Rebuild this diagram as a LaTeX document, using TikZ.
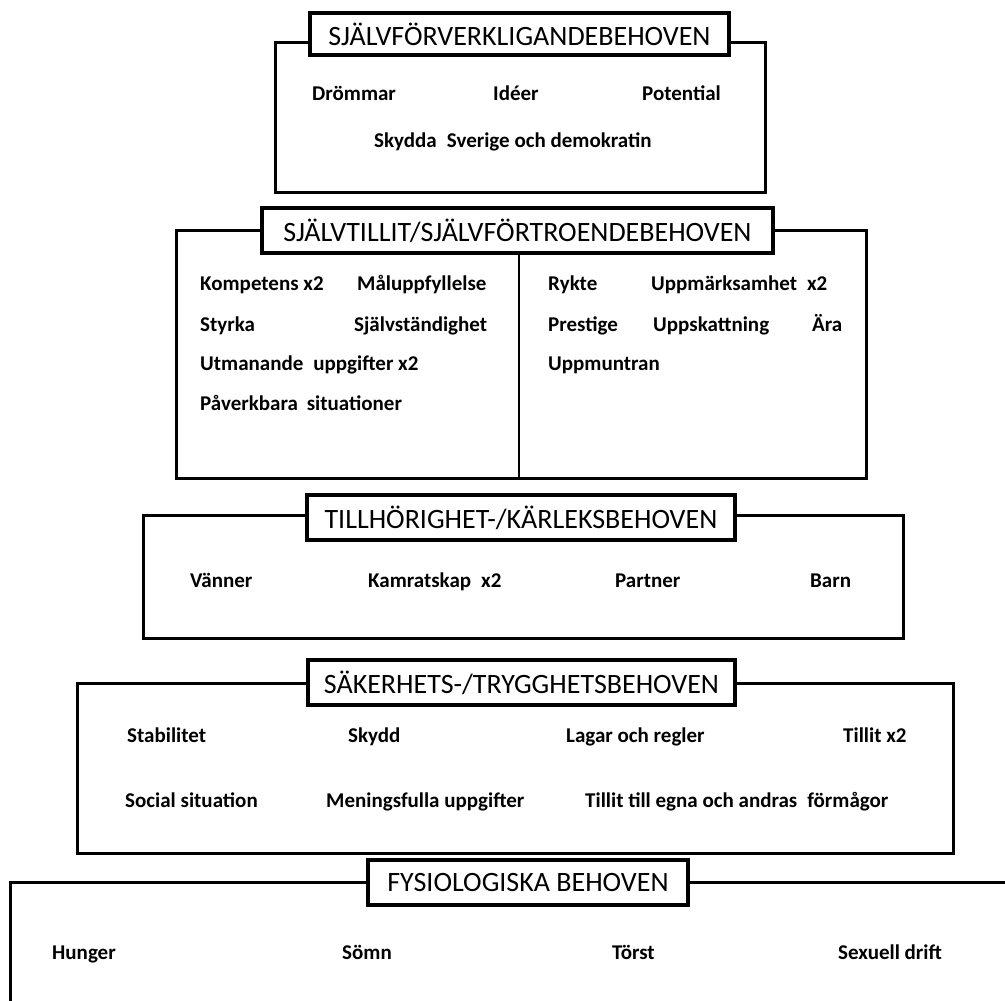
\documentclass[tikz,border=0pt]{standalone}
\usepackage{fontspec}
\setmainfont{Carlito}
\begin{document}
\begin{tikzpicture}[x=1pt,y=-1pt,
  levelbox/.style={draw=black,line width=3pt},
  leveltitle/.style={draw=black,fill=white,line width=3.5pt,inner sep=0pt,
    font=\fontsize{28}{30}\selectfont},
  item/.style={anchor=base west,inner sep=0pt,font=\bfseries\fontsize{21}{24}\selectfont},
  divider/.style={draw=black,line width=1.5pt}]
\clip (0,0) rectangle (1005,1001);
\fill[white] (0,0) rectangle (1005,1001);

% Level 5
\draw[levelbox] (275,42) rectangle (765,192);
\node[leveltitle,minimum width=419pt,minimum height=42pt] (t5) at (519.5,34) {SJÄLVFÖRVERKLIGANDEBEHOVEN};
\node[item] (d1) at (312,100) {Drömmar};
\node[item] (d2) at (493,100) {Idéer};
\node[item] (d3) at (642,100) {Potential};
\node[item] (d4) at (374,147) {Skydda\hspace{0.25em} Sverige och demokratin};

% Level 4
\draw[levelbox] (176,230) rectangle (866,478);
\coordinate (divtop) at (519,253);
\coordinate (divbot) at (519,478);
\draw[divider] (divtop) -- (divbot);
\node[leveltitle,minimum width=511pt,minimum height=45pt] (t4) at (517.5,230.5) {SJÄLVTILLIT/SJÄLVFÖRTROENDEBEHOVEN};
\node[item] (s1) at (200,290) {Kompetens x2};
\node[item] (s2) at (357,290) {Måluppfyllelse};
\node[item] (s3) at (200,331) {Styrka};
\node[item] (s4) at (354,331) {Självständighet};
\node[item] (s5) at (200,370) {Utmanande\hspace{0.25em} uppgifter x2};
\node[item] (s6) at (200,410) {Påverkbara\hspace{0.2em} situationer};
\node[item] (r1) at (548,290) {Rykte};
\node[item] (r2) at (651,290) {Uppmärksamhet\hspace{0.25em} x2};
\node[item] (r3) at (548,331) {Prestige};
\node[item] (r4) at (653,331) {Uppskattning};
\node[item] (r5) at (812,331) {Ära};
\node[item] (r6) at (548,370) {Uppmuntran};

% Level 3
\draw[levelbox] (143,515) rectangle (903,638);
\node[leveltitle,minimum width=428pt,minimum height=45pt] (t3) at (521,517.5) {TILLHÖRIGHET-/KÄRLEKSBEHOVEN};
\node[item] (k1) at (190,587) {Vänner};
\node[item] (k2) at (368,587) {Kamratskap\hspace{0.25em} x2};
\node[item] (k3) at (615,587) {Partner};
\node[item] (k4) at (810,587) {Barn};

% Level 2
\draw[levelbox] (77,683) rectangle (953,853);
\node[leveltitle,minimum width=427pt,minimum height=45pt] (t2) at (521.5,682.5) {SÄKERHETS-/TRYGGHETSBEHOVEN};
\node[item] (a1) at (127,742) {Stabilitet};
\node[item] (a2) at (348,742) {Skydd};
\node[item] (a3) at (566,742) {Lagar och regler};
\node[item] (a4) at (843,742) {Tillit x2};
\node[item] (a5) at (125,807) {Social situation};
\node[item] (a6) at (326,807) {Meningsfulla uppgifter};
\node[item] (a7) at (585,807) {Tillit till egna och andras\hspace{0.25em} förmågor};

% Level 1
\draw[levelbox] (10,882) rectangle (1030,1030);
\node[leveltitle,minimum width=320pt,minimum height=45pt] (t1) at (528,882.5) {FYSIOLOGISKA BEHOVEN};
\node[item] (f1) at (52,959) {Hunger};
\node[item] (f2) at (342,959) {Sömn};
\node[item] (f3) at (612,959) {Törst};
\node[item] (f4) at (838,959) {Sexuell drift};
\end{tikzpicture}
\end{document}
